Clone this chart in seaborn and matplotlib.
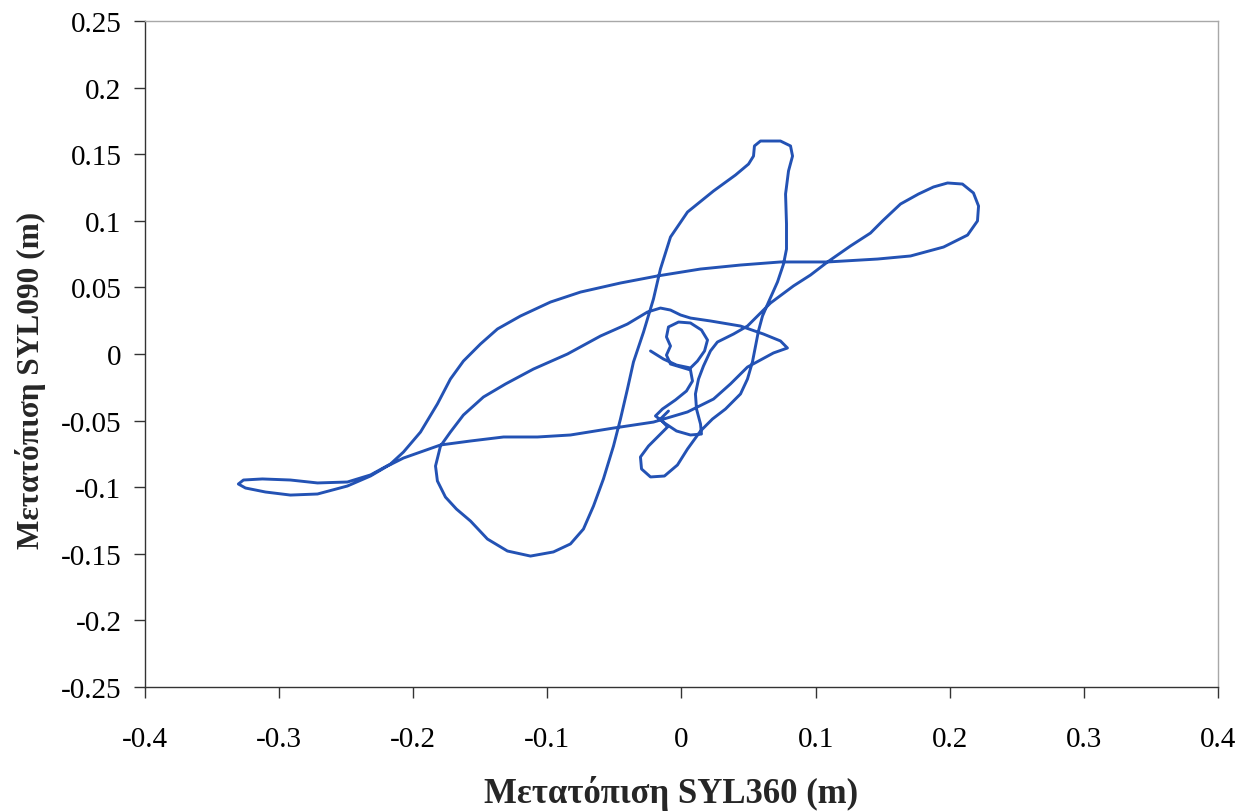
import numpy as np
import pandas as pd
import seaborn as sns
import matplotlib
matplotlib.use("Agg")
import matplotlib.pyplot as plt

# Displacement orbit: SYL360 component (x) against SYL090 component (y), metres
disp_360 = [
    -0.0231, -0.0134, -0.0037, 0.0067, 0.0119, 0.0172, 0.0194, 0.0149, 0.0067, -0.0022,
    -0.0097, -0.0112, -0.0082, -0.0112, -0.0082, 0.0067, 0.0082, 0.0037, -0.0045, -0.0142,
    -0.0194, -0.0127, -0.0037, 0.0067, 0.0149, 0.0142, 0.0112, 0.0104, 0.0127, 0.0164,
    0.0216, 0.0268, 0.0388, 0.0492, 0.0567, 0.0664, 0.0835, 0.0962, 0.1089, 0.1260,
    0.1409, 0.1499, 0.1633, 0.1767, 0.1879, 0.1984, 0.2095, 0.2177, 0.2215, 0.2207,
    0.2133, 0.1954, 0.1708, 0.1462, 0.1089, 0.0738, 0.0440, 0.0142, -0.0179, -0.0455,
    -0.0753, -0.0977, -0.1201, -0.1372, -0.1499, -0.1626, -0.1723, -0.1820, -0.1946, -0.2073,
    -0.2170, -0.2319, -0.2491, -0.2714, -0.2916, -0.3125, -0.3266, -0.3304, -0.3251, -0.3102,
    -0.2916, -0.2714, -0.2491, -0.2319, -0.2192, -0.2073, -0.1946, -0.1797, -0.1573, -0.1327,
    -0.1074, -0.0828, -0.0507, -0.0209, 0.0045, 0.0239, 0.0365, 0.0492, 0.0686, 0.0790,
    0.0738, 0.0611, 0.0440, 0.0216, 0.0067, -0.0007, -0.0082, -0.0157, -0.0254, -0.0403,
    -0.0604, -0.0850, -0.1104, -0.1312, -0.1477, -0.1626, -0.1723, -0.1797, -0.1834, -0.1820,
    -0.1760, -0.1678, -0.1573, -0.1447, -0.1298, -0.1126, -0.0955, -0.0828, -0.0731, -0.0656,
    -0.0582, -0.0507, -0.0455, -0.0403, -0.0358, -0.0283, -0.0209, -0.0157, -0.0082, 0.0045,
    0.0239, 0.0403, 0.0500, 0.0537, 0.0544, 0.0589, 0.0738, 0.0813, 0.0828, 0.0798,
    0.0776, 0.0783, 0.0783, 0.0761, 0.0716, 0.0649, 0.0604, 0.0574, 0.0552, 0.0529,
    0.0492, 0.0440, 0.0328, 0.0231, 0.0142, 0.0045, -0.0030, -0.0127, -0.0231, -0.0298,
    -0.0306, -0.0246, -0.0172, -0.0104, -0.0157, -0.0097,
]
disp_090 = [
    0.0023, -0.0038, -0.0083, -0.0105, -0.0053, 0.0023, 0.0105, 0.0180, 0.0233, 0.0240,
    0.0203, 0.0128, 0.0060, -0.0008, -0.0075, -0.0120, -0.0203, -0.0278, -0.0345, -0.0413,
    -0.0465, -0.0518, -0.0578, -0.0608, -0.0601, -0.0526, -0.0413, -0.0300, -0.0188, -0.0090,
    0.0023, 0.0090, 0.0150, 0.0210, 0.0285, 0.0383, 0.0511, 0.0593, 0.0691, 0.0811,
    0.0908, 0.0999, 0.1126, 0.1201, 0.1254, 0.1284, 0.1276, 0.1209, 0.1111, 0.0999,
    0.0893, 0.0803, 0.0736, 0.0713, 0.0691, 0.0691, 0.0668, 0.0638, 0.0586, 0.0533,
    0.0465, 0.0390, 0.0285, 0.0188, 0.0075, -0.0053, -0.0188, -0.0375, -0.0586, -0.0736,
    -0.0826, -0.0908, -0.0961, -0.0968, -0.0946, -0.0938, -0.0946, -0.0976, -0.1006, -0.1036,
    -0.1059, -0.1051, -0.0991, -0.0916, -0.0841, -0.0781, -0.0736, -0.0683, -0.0653, -0.0623,
    -0.0623, -0.0608, -0.0556, -0.0511, -0.0435, -0.0338, -0.0225, -0.0098, 0.0008, 0.0045,
    0.0098, 0.0150, 0.0210, 0.0248, 0.0270, 0.0293, 0.0330, 0.0345, 0.0315, 0.0225,
    0.0135, 0.0000, -0.0113, -0.0225, -0.0323, -0.0458, -0.0586, -0.0691, -0.0841, -0.0953,
    -0.1074, -0.1164, -0.1254, -0.1389, -0.1479, -0.1517, -0.1486, -0.1426, -0.1314, -0.1141,
    -0.0938, -0.0691, -0.0488, -0.0263, -0.0060, 0.0165, 0.0413, 0.0638, 0.0878, 0.1066,
    0.1224, 0.1344, 0.1426, 0.1486, 0.1562, 0.1599, 0.1599, 0.1562, 0.1486, 0.1374,
    0.1201, 0.0976, 0.0788, 0.0676, 0.0541, 0.0390, 0.0285, 0.0173, 0.0060, -0.0060,
    -0.0188, -0.0300, -0.0413, -0.0488, -0.0578, -0.0713, -0.0833, -0.0916, -0.0923, -0.0863,
    -0.0773, -0.0691, -0.0616, -0.0548, -0.0488, -0.0428,
]

x_ticks = [-0.4, -0.3, -0.2, -0.1, 0.0, 0.1, 0.2, 0.3, 0.4]
x_tick_labels = ["-0.4", "-0.3", "-0.2", "-0.1", "0", "0.1", "0.2", "0.3", "0.4"]
y_ticks = [-0.25, -0.2, -0.15, -0.1, -0.05, 0.0, 0.05, 0.1, 0.15, 0.2, 0.25]
y_tick_labels = ["-0.25", "-0.2", "-0.15", "-0.1", "-0.05", "0", "0.05", "0.1", "0.15", "0.2", "0.25"]

orbit = pd.DataFrame({"x": disp_360, "y": disp_090, "step": np.arange(len(disp_360))})

sns.set_style("white")
plt.rcParams["font.family"] = ["Liberation Serif", "DejaVu Serif"]

fig = plt.figure(figsize=(12.47, 8.12), dpi=100)
ax = fig.add_axes([0.1163, 0.1527, 0.8604, 0.8202])

sns.lineplot(data=orbit, x="x", y="y", sort=False, estimator=None,
             color="#2352b4", linewidth=2.1, ax=ax)
for ln in ax.lines:
    ln.set_solid_joinstyle("round")
    ln.set_solid_capstyle("round")

ax.set_xlim(-0.4, 0.4)
ax.set_ylim(-0.25, 0.25)
ax.set_xticks(x_ticks)
ax.set_xticklabels(x_tick_labels)
ax.set_yticks(y_ticks)
ax.set_yticklabels(y_tick_labels)
ax.tick_params(axis="both", direction="out", length=8, width=1.0,
               color="#333333", labelsize=21, labelcolor="black")
ax.tick_params(axis="x", pad=20)
ax.tick_params(axis="y", pad=9)
ax.tick_params(bottom=True, left=True, top=False, right=False)

for side in ("left", "bottom"):
    ax.spines[side].set_color("#333333")
    ax.spines[side].set_linewidth(1.0)
for side in ("top", "right"):
    ax.spines[side].set_color("#a8a8a8")
    ax.spines[side].set_linewidth(1.0)

ax.set_xlabel("Μετατόπιση SYL360 (m)", fontsize=25, fontweight="bold")
ax.set_ylabel("Μετατόπιση SYL090 (m)", fontsize=22.5, fontweight="bold")
ax.xaxis.set_label_coords(0.49, -0.132)
ax.yaxis.set_label_coords(-0.092, 0.462)

fig.savefig("out.png", dpi=100, facecolor="white")
